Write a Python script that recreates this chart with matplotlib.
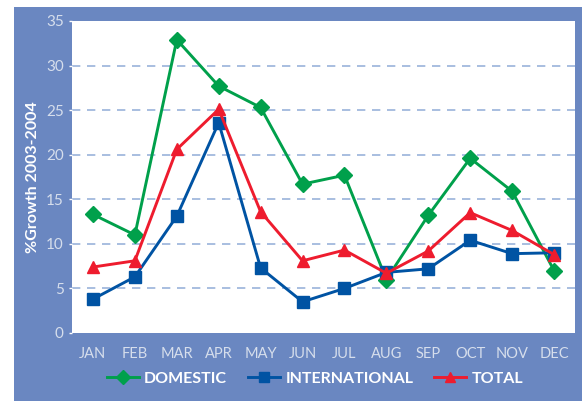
import matplotlib
matplotlib.use('Agg')
from matplotlib import pyplot as plt
from matplotlib.patches import Rectangle

months = ['JAN', 'FEB', 'MAR', 'APR', 'MAY', 'JUN', 'JUL', 'AUG', 'SEP', 'OCT', 'NOV', 'DEC']
domestic = [13.3, 11.0, 32.9, 27.7, 25.3, 16.7, 17.7, 6.0, 13.2, 19.6, 15.9, 7.0]
international = [3.8, 6.3, 13.1, 23.6, 7.3, 3.5, 5.0, 6.8, 7.2, 10.4, 8.9, 9.0]
total = [7.4, 8.1, 20.6, 25.1, 13.6, 8.1, 9.3, 6.7, 9.2, 13.5, 11.5, 8.8]

BG = '#6a87c1'
TICK = '#d6deec'

plt.rcParams['font.family'] = ['Lato', 'DejaVu Sans']

fig = plt.figure(figsize=[5.82, 4.01], dpi=100)
# blue panel behind the axes, leaving a thin white strip top and left
fig.patches.append(Rectangle((14 / 582, 0), 1, 1 - 7 / 401, transform=fig.transFigure,
                             facecolor=BG, edgecolor='none', zorder=-10))

ax = fig.add_axes([72 / 582, 1 - 333 / 401, 503 / 582, 312 / 401])
ax.set_facecolor('white')
for s in ax.spines.values():
    s.set_visible(False)

x = range(len(months))
ax.plot(x, domestic, color='#00a04b', lw=2.1, marker='D', ms=8, label='DOMESTIC', zorder=3)
ax.plot(x, international, color='#0053a3', lw=2.1, marker='s', ms=8, label='INTERNATIONAL', zorder=4)
ax.plot(x, total, color='#ee1c2e', lw=2.1, marker='^', ms=9, label='TOTAL', zorder=5)

ax.set_xlim(-0.5, 11.5)
ax.set_ylim(0, 35)
ax.set_yticks(range(0, 36, 5))
ax.set_xticks(list(x))
ax.set_xticklabels(months)
for yv in range(5, 31, 5):
    ax.axhline(yv, color='#9ab3da', lw=1.2, ls=(0, (5, 4)), zorder=1)

ax.tick_params(axis='y', colors='white', labelcolor=TICK, length=2, width=1, pad=4, labelsize=11)
ax.tick_params(axis='x', length=0, labelcolor=TICK, pad=10, labelsize=10.5)

ax.set_ylabel('%Growth 2003-2004', color='white', fontsize=11.5, fontweight='bold')
ax.yaxis.set_label_coords(-0.064, 0.5)

leg = ax.legend(loc='center', bbox_to_anchor=(0.483, -0.147), ncol=3, frameon=False,
                handlelength=2.0, handletextpad=0.35, columnspacing=1.3, markerscale=0.85,
                prop={'weight': 'bold', 'size': 11.5})
for t in leg.get_texts():
    t.set_color('white')

fig.savefig('out.png', dpi=100)
